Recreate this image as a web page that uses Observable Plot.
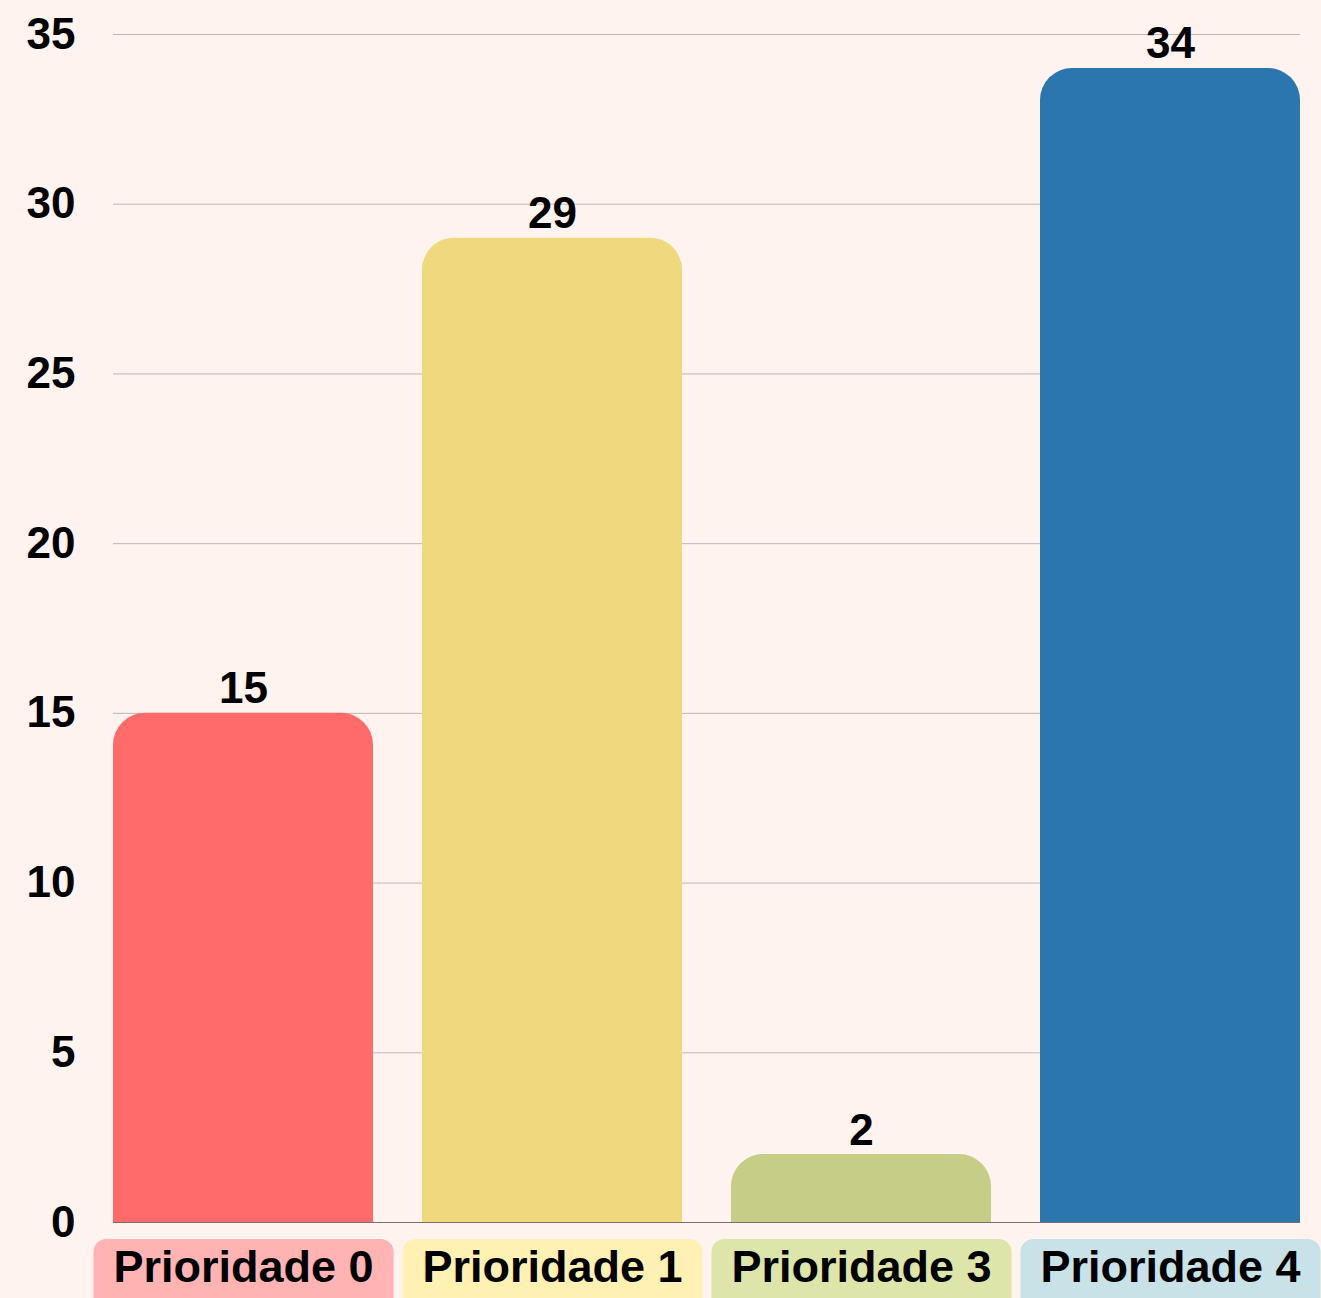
<!DOCTYPE html>
<html>
<head>
<meta charset="utf-8">
<script src="https://cdn.jsdelivr.net/npm/d3@7"></script>
<script src="https://cdn.jsdelivr.net/npm/@observablehq/plot@0.6"></script>
<style>
  html, body { margin: 0; padding: 0; background: #fff3ef; }
  #chart svg { display: block; }
</style>
</head>
<body>
<div id="chart"></div>
<script>
const categories = ["Prioridade 0", "Prioridade 1", "Prioridade 3", "Prioridade 4"];
const values = [15, 29, 2, 34];
const barColors = ["#ff6b6b", "#f0d97c", "#c5cd87", "#2a76ad"];
const labelColors = ["#ffb3b3", "#fff0b3", "#dde5ab", "#c8e2e8"];
const yTicks = [0, 5, 10, 15, 20, 25, 30, 35];

const data = categories.map((c, i) => ({category: c, value: values[i]}));
const font = "'Liberation Sans', Arial, Helvetica, sans-serif";

const plot = Plot.plot({
  width: 1321,
  height: 1298,
  marginTop: 34,
  marginBottom: 76,
  marginLeft: 113,
  marginRight: 21,
  style: {background: "#fff3ef", fontFamily: font, color: "#000"},
  x: {domain: categories, paddingInner: 0.16, paddingOuter: 0, axis: null},
  y: {domain: [0, 35], axis: null},
  color: {domain: categories, range: barColors},
  marks: [
    Plot.gridY(yTicks, {stroke: "#bfb7b7", strokeOpacity: 1, strokeWidth: 1}),
    Plot.axisY(yTicks, {tickSize: 0, tickPadding: 38, fontSize: 44, fontWeight: "bold", fill: "#000", label: null}),
    Plot.barY(data, {x: "category", y: "value", fill: "category", ry1: 32}),
    Plot.ruleY([0], {stroke: "#7a7070", strokeWidth: 1.2}),
    Plot.text(data, {x: "category", y: "value", text: d => String(d.value), dy: -10, lineAnchor: "bottom", fontSize: 44, fontWeight: "bold", fill: "#000"}),
    Plot.text(data, {x: "category", frameAnchor: "bottom", text: "category", dy: 45, lineAnchor: "middle", fontSize: 45, fontWeight: "bold", fill: "#000"})
  ]
});

document.getElementById("chart").appendChild(plot);

// rounded background boxes behind the category labels
const labelNodes = Array.from(plot.querySelectorAll("text"))
  .filter(t => categories.includes(t.textContent));
labelNodes.forEach(t => {
  const i = categories.indexOf(t.textContent);
  const bb = t.getBBox();
  const w = bb.width + 40;
  const r = document.createElementNS("http://www.w3.org/2000/svg", "rect");
  const tr = t.getAttribute("transform");
  if (tr) r.setAttribute("transform", tr);
  r.setAttribute("x", bb.x + bb.width / 2 - w / 2);
  r.setAttribute("y", bb.y - 2);
  r.setAttribute("width", w);
  r.setAttribute("height", 80);
  r.setAttribute("rx", 13);
  r.setAttribute("fill", labelColors[i]);
  t.parentNode.insertBefore(r, t);
});
</script>
</body>
</html>
